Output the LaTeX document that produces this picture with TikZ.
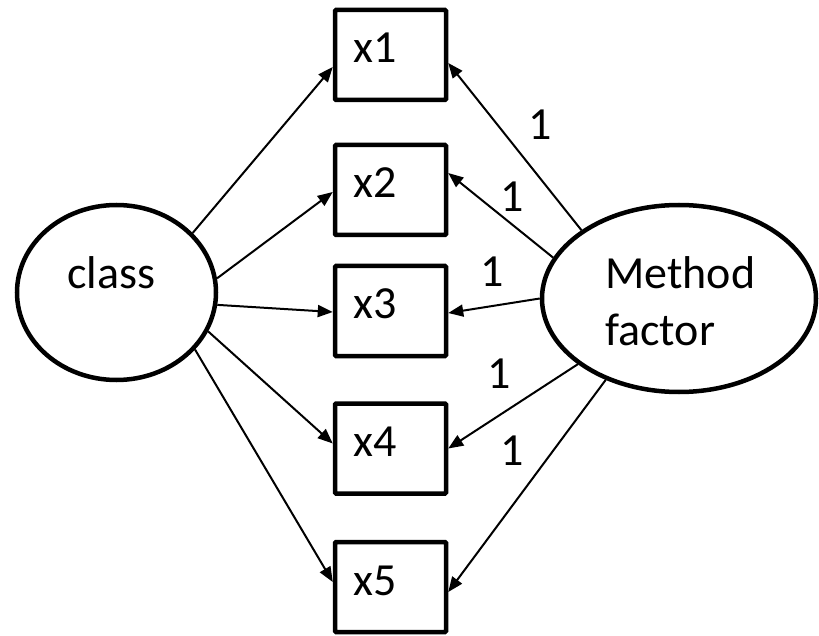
\documentclass[tikz,border=0pt]{standalone}
\usepackage{fontspec}
\setmainfont{Carlito}
\usetikzlibrary{shapes.geometric,arrows.meta,calc}

\begin{document}
\begin{tikzpicture}[x=1pt,y=-1pt,
  every node/.style={font=\fontsize{46}{56}\selectfont},
  latent/.style={ellipse,draw,line width=4.5pt,inner sep=0pt},
  obsbox/.style={rectangle,draw,line width=4.5pt,rounded corners=1pt,
                 minimum width=111pt,minimum height=90pt,inner sep=0pt},
  txt/.style={inner sep=0pt,anchor=base west},
  onelbl/.style={inner sep=0pt,anchor=base},
  path/.style={line width=2pt,-{Triangle[length=15pt,width=12pt]}}]

\useasboundingbox (0,0) rectangle (819,636);

% latent variables
\node[latent,minimum width=199pt,minimum height=175pt] (class) at (116.5,292.5) {};
\node[latent,minimum width=274pt,minimum height=187pt] (method) at (679,298.5) {};
\node[txt] (classtxt) at (67,288) {class};
\node[txt] (mtxta) at (605,288) {Method};
\node[txt] (mtxtb) at (605,345) {factor};

% observed indicators
\foreach \n/\y in {1/55,2/190,3/311,4/448.5,5/587}{
  \node[obsbox] (x\n) at (390.5,\y) {};
  \node[txt] (x\n txt) at (353,\y+8) {x\n};
}

% loadings on the trait factor
\draw[path] (class.38.7)  -- ($(x1.west)+(0,12)$);
\draw[path] (class.8.3)   -- ($(x2.west)+(0,2)$);
\draw[path] (class.-7.2)  -- ($(x3.west)+(0,1)$);
\draw[path] (class.-23.3) -- ($(x4.west)+(0,-5)$);
\draw[path] (class.-36.9) -- ($(x5.west)+(0,-5)$);

% fixed loadings on the method factor
\draw[path] (method.145.9) -- ($(x1.east)+(0,8)$);
\draw[path] (method.162.8) -- ($(x2.east)+(0,-17)$);
\draw[path] (method.180)   -- ($(x3.east)+(0,2)$);
\draw[path] (method.213.9) -- ($(x4.east)+(0,0)$);
\draw[path] (method.228.5) -- ($(x5.east)+(0,5)$);

\node[onelbl] (l1) at (540,140) {1};
\node[onelbl] (l2) at (512,212) {1};
\node[onelbl] (l3) at (492,287) {1};
\node[onelbl] (l4) at (499,388) {1};
\node[onelbl] (l5) at (512,465) {1};
\end{tikzpicture}
\end{document}
